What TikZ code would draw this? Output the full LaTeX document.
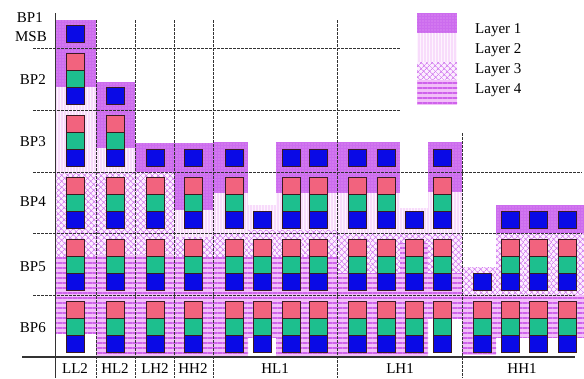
\documentclass[tikz,border=0pt]{standalone}
\usepackage{fontspec}
\setmainfont{Liberation Serif}
\usepackage{tikz}
\usetikzlibrary{patterns.meta}
\definecolor{bitpink}{HTML}{F2637E}
\definecolor{bitgreen}{HTML}{1DBF8E}
\definecolor{bitblue}{HTML}{0A0AE6}
\definecolor{bitedge}{HTML}{3A1A22}
\definecolor{lyone}{HTML}{CC6CEE}
\definecolor{lyonedot}{HTML}{E6A4F6}
\definecolor{lytwo}{HTML}{F8DCFB}
\definecolor{lytwoline}{HTML}{FDF4FE}
\definecolor{lythree}{HTML}{FCEEFE}
\definecolor{lythreeline}{HTML}{D480F0}
\definecolor{lyfour}{HTML}{F2C0F8}
\definecolor{lyfourline}{HTML}{CF62EC}
\definecolor{gridgray}{HTML}{333333}

\begin{document}
\begin{tikzpicture}[x=1pt,y=-1pt,
    font=\fontsize{15}{18}\selectfont,
    bit/.style={draw=bitedge,line width=0.6pt,minimum width=18pt,minimum height=17pt,inner sep=0pt},
    bluebit/.style={bit,fill=bitblue},
    greenbit/.style={bit,fill=bitgreen},
    pinkbit/.style={bit,fill=bitpink},
    layerone/.style={fill=lyone,postaction={pattern={Dots[distance=3pt,radius=0.6pt]},pattern color=lyonedot}},
    layertwo/.style={fill=lytwo,postaction={pattern={Lines[angle=90,distance=3pt,line width=0.8pt]},pattern color=lytwoline}},
    layerthree/.style={fill=lythree,postaction={pattern={Hatch[angle=45,distance=4pt,line width=0.8pt]},pattern color=lythreeline}},
    layerfour/.style={fill=lyfour,postaction={pattern={Lines[distance=5pt,line width=2pt]},pattern color=lyfourline}},
    gridline/.style={gridgray,line width=0.8pt,dash pattern=on 3pt off 1pt},
    lbl/.style={inner sep=0pt}]
  \useasboundingbox (0,0) rectangle (584,378);

  % layer regions of every column: left/right/top/layer borders/bottom
  \foreach \xl/\xr/\ta/\tb/\tc/\td/\te in {
      55/96/20/87/173/257/333, 96/135/82/148/172/255/357,
      135/174/143/172/172/255/357, 174/213/143/210/237/257/357,
      213/248/142/193/233/257/357, 248/276/205/205/230/257/337,
      276/304/142/193/230/257/357, 304/337/142/193/230/257/357,
      337/371/142/193/233/273/357, 371/400/142/193/233/273/357,
      400/428/208/208/233/243/357, 428/462/142/192/233/273/318,
      462/496/267/267/267/295/355, 496/524/205/233/233/295/337,
      524/552/205/233/233/295/337, 552/584/205/233/233/295/337} {
    \fill[layerone] (\xl,\ta) rectangle (\xr,\tb);
    \fill[layertwo] (\xl,\tb) rectangle (\xr,\tc);
    \fill[layerthree] (\xl,\tc) rectangle (\xr,\td);
    \fill[layerfour] (\xl,\td) rectangle (\xr,\te);
  }

  % bit plane borders and subband borders
  \draw[gridline] (33,48) -- (400,48);
  \draw[gridline] (33,110) -- (400,110);
  \draw[gridline] (33,172) -- (582,172);
  \draw[gridline] (33,233) -- (582,233);
  \draw[gridline] (33,295) -- (575,295);
  \foreach \vx in {96,135,174,213,337}
    \draw[gridline] (\vx,20) -- (\vx,378);
  \draw[gridline] (462,133) -- (462,378);
  \draw[gridgray,line width=1pt] (55,13) -- (55,378);
  \draw[gridgray,line width=1.2pt] (22,357) -- (575,357);

  % coefficient bits: column x / first bit plane
  \foreach \cx/\f [count=\i] in {75/1,115/2,155/3,193/3,234/3,262/4,291/3,318/3,
      357/3,386/3,414/4,442/3,482/5,510/4,538/4,567/4} {
    \pgfmathtruncatemacro\t{62*\f-76}
    \node[bluebit] (b-\i-\f) at (\cx,\t+47.5) {};
    \pgfmathtruncatemacro\g{\f+1}
    \foreach \r in {\g,...,6} {
      \pgfmathtruncatemacro\t{62*\r-76}
      \node[pinkbit] (p-\i-\r) at (\cx,\t+13.5) {};
      \node[greenbit] (g-\i-\r) at (\cx,\t+30.5) {};
      \node[bluebit] (b-\i-\r) at (\cx,\t+47.5) {};
    }
  }

  \node[lbl,anchor=east] (bp1) at (43,18) {BP1};
  \node[lbl,anchor=east] (msb) at (47,37) {MSB};
  \node[lbl,anchor=east] (bp2) at (46,80) {BP2};
  \node[lbl,anchor=east] (bp3) at (46,142) {BP3};
  \node[lbl,anchor=east] (bp4) at (46,202) {BP4};
  \node[lbl,anchor=east] (bp5) at (46,267) {BP5};
  \node[lbl,anchor=east] (bp6) at (46,328) {BP6};

  \node[lbl] (ll2) at (75,368.5) {LL2};
  \node[lbl] (hl2) at (115,368.5) {HL2};
  \node[lbl] (lh2) at (155,368.5) {LH2};
  \node[lbl] (hh2) at (193,368.5) {HH2};
  \node[lbl] (hl1) at (275,368.5) {HL1};
  \node[lbl] (lh1) at (400,368.5) {LH1};
  \node[lbl] (hh1) at (522,368.5) {HH1};

  % legend
  \fill[layerone] (417,13) rectangle (457,33);
  \fill[layertwo] (417,33) rectangle (457,62);
  \fill[layerthree] (417,62) rectangle (457,80);
  \fill[layerfour] (417,80) rectangle (457,105);
  \node[lbl,anchor=base west] (ly1) at (475,33) {Layer 1};
  \node[lbl,anchor=base west] (ly2) at (475,53) {Layer 2};
  \node[lbl,anchor=base west] (ly3) at (475,73) {Layer 3};
  \node[lbl,anchor=base west] (ly4) at (475,93) {Layer 4};
\end{tikzpicture}
\end{document}
